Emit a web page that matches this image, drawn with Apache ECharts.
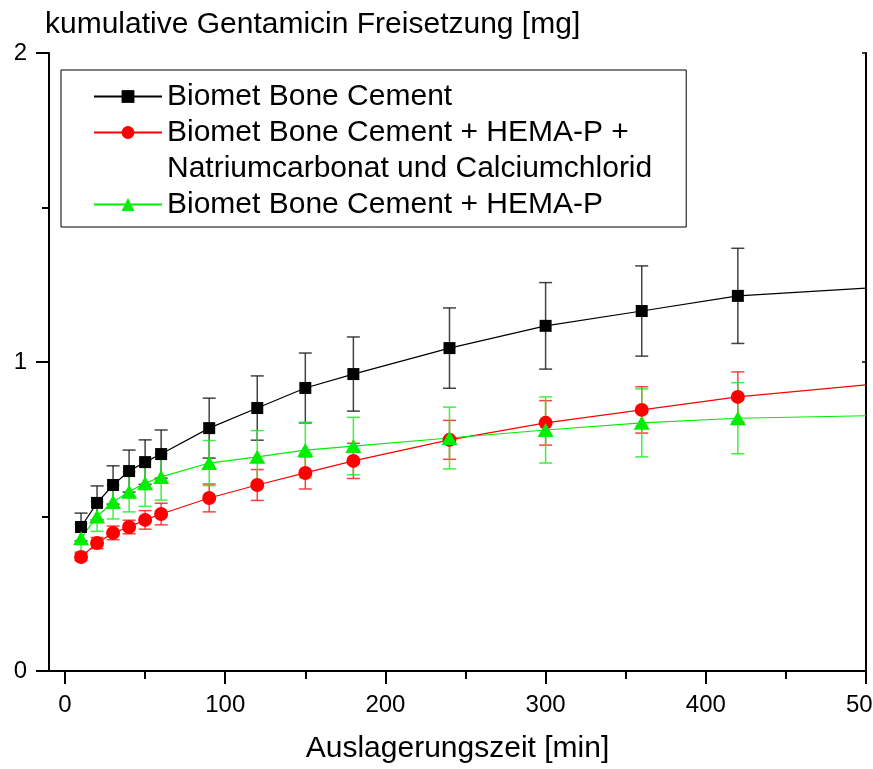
<!DOCTYPE html>
<html>
<head>
<meta charset="utf-8">
<script src="https://cdn.jsdelivr.net/npm/echarts@6/dist/echarts.min.js"></script>
<style>
  html, body { margin: 0; padding: 0; background: #ffffff; }
  #chartArea { width: 873px; height: 769px; }
</style>
</head>
<body>
<div id="chartArea"></div>
<script>
var times = [10, 20, 30, 40, 50, 60, 90, 120, 150, 180, 240, 300, 360, 420];

var blackVals = [0.466, 0.544, 0.602, 0.647, 0.676, 0.702, 0.786, 0.851, 0.916, 0.961, 1.045, 1.117, 1.165, 1.214];
var blackErr  = [0.045, 0.055, 0.062, 0.068, 0.072, 0.078, 0.097, 0.104, 0.113, 0.120, 0.130, 0.140, 0.146, 0.154];

var redVals = [0.369, 0.414, 0.447, 0.466, 0.489, 0.508, 0.560, 0.602, 0.641, 0.680, 0.748, 0.803, 0.845, 0.887];
var redErr  = [0.012, 0.018, 0.022, 0.022, 0.030, 0.035, 0.045, 0.050, 0.052, 0.057, 0.063, 0.072, 0.075, 0.081];

var greenVals = [0.430, 0.500, 0.547, 0.580, 0.608, 0.628, 0.673, 0.693, 0.715, 0.728, 0.754, 0.780, 0.803, 0.818];
var greenErr  = [0.045, 0.048, 0.055, 0.065, 0.075, 0.075, 0.073, 0.085, 0.090, 0.093, 0.100, 0.107, 0.110, 0.115];

// end of the fitted curves at the right border
var fitEndX = 500;
var blackFitEnd = 1.239;
var redFitEnd = 0.926;
var greenFitEnd = 0.826;

var xTicks = [0, 100, 200, 300, 400, 500];
var xMinorTicks = [50, 150, 250, 350, 450];
var xTopTicks = [0, 50, 100, 150, 200, 250, 300, 350, 400, 450, 500];

var names = [
    'Biomet Bone Cement',
    'Biomet Bone Cement + HEMA-P +',
    'Natriumcarbonat und Calciumchlorid',
    'Biomet Bone Cement + HEMA-P'
];

var font = 'Liberation Sans, Arial, sans-serif';

function fitData(vals, endVal) {
    var out = times.map(function(t, i) { return [t, vals[i]]; });
    out.push({ value: [fitEndX, endVal], symbol: 'none' });
    return out;
}

function errData(vals, errs) {
    return times.map(function(t, i) { return [t, vals[i] - errs[i], vals[i] + errs[i]]; });
}

function renderErrorBar(params, api) {
    var x = api.value(0);
    var top = api.coord([x, api.value(2)]);
    var bot = api.coord([x, api.value(1)]);
    var half = 6.5;
    var style = { stroke: api.visual('color'), lineWidth: 1.5, opacity: 0.85 };
    return {
        type: 'group',
        children: [
            { type: 'line', shape: { x1: top[0], y1: top[1], x2: bot[0], y2: bot[1] }, style: style },
            { type: 'line', shape: { x1: top[0] - half, y1: top[1], x2: top[0] + half, y2: top[1] }, style: style },
            { type: 'line', shape: { x1: bot[0] - half, y1: bot[1], x2: bot[0] + half, y2: bot[1] }, style: style }
        ]
    };
}

function errSeries(vals, errs, color) {
    return {
        type: 'custom',
        renderItem: renderErrorBar,
        data: errData(vals, errs),
        encode: { x: 0, y: [1, 2] },
        itemStyle: { color: color },
        z: 1,
        silent: true
    };
}

function lineSeries(name, vals, endVal, color, symbol, size) {
    return {
        name: name,
        type: 'line',
        data: fitData(vals, endVal),
        smooth: false,
        symbol: symbol,
        symbolSize: size,
        showAllSymbol: true,
        lineStyle: { color: color, width: 1.2 },
        itemStyle: { color: color },
        z: 3
    };
}

var myChart = echarts.init(document.getElementById('chartArea'), null, { renderer: 'canvas' });

var option = {
    animation: false,
    backgroundColor: '#ffffff',
    textStyle: { fontFamily: font },
    title: {
        text: 'kumulative Gentamicin Freisetzung [mg]',
        left: 45,
        top: 10,
        padding: 0,
        textStyle: { fontFamily: font, fontSize: 30, fontWeight: 'normal', color: '#000' }
    },
    legend: {
        left: 61,
        top: 70,
        orient: 'vertical',
        padding: [9, 34, 5, 32],
        borderColor: '#000',
        borderWidth: 1,
        itemWidth: 68,
        itemHeight: 16,
        itemGap: 1,
        selectedMode: false,
        textStyle: { fontFamily: font, fontSize: 30, color: '#000', lineHeight: 35 },
        data: [
            { name: names[0] },
            { name: names[1] },
            { name: names[2], icon: 'none' },
            { name: names[3] }
        ]
    },
    grid: { left: 49, right: 7, top: 53, bottom: 98, containLabel: false, outerBoundsMode: 'none' },
    xAxis: [
        {
            type: 'value',
            position: 'bottom',
            min: -10,
            max: 500,
            name: 'Auslagerungszeit [min]',
            nameLocation: 'middle',
            nameGap: 63,
            nameTextStyle: { fontFamily: font, fontSize: 30, color: '#000' },
            axisLine: { show: true, onZero: false, lineStyle: { color: '#000', width: 2 } },
            axisTick: { show: true, customValues: xTicks, length: 13, lineStyle: { color: '#000', width: 2 } },
            axisLabel: { customValues: xTicks, fontFamily: font, fontSize: 24, color: '#000', margin: 22 },
            splitLine: { show: false }
        },
        {
            type: 'value',
            position: 'bottom',
            min: -10,
            max: 500,
            axisLine: { show: false },
            axisTick: { show: true, customValues: xMinorTicks, length: 8, lineStyle: { color: '#000', width: 2 } },
            axisLabel: { show: false },
            splitLine: { show: false }
        },
        {
            type: 'value',
            position: 'top',
            min: -10,
            max: 500,
            axisLine: { show: true, lineStyle: { color: '#000', width: 2 } },
            axisTick: { show: true, inside: true, customValues: xTopTicks, length: 4, lineStyle: { color: '#000', width: 1.5 } },
            axisLabel: { show: false },
            splitLine: { show: false }
        }
    ],
    yAxis: [
        {
            type: 'value',
            position: 'left',
            min: 0,
            max: 2,
            interval: 1,
            axisLine: { show: true, onZero: false, lineStyle: { color: '#000', width: 2 } },
            axisTick: { show: true, length: 13, lineStyle: { color: '#000', width: 2 } },
            minorTick: { show: true, splitNumber: 2, length: 7, lineStyle: { color: '#000', width: 2 } },
            axisLabel: { fontFamily: font, fontSize: 24, color: '#000', margin: 22 },
            splitLine: { show: false }
        },
        {
            type: 'value',
            position: 'right',
            min: 0,
            max: 2,
            interval: 1,
            axisLine: { show: true, onZero: false, lineStyle: { color: '#000', width: 2 } },
            axisTick: { show: true, inside: true, length: 4, lineStyle: { color: '#000', width: 1.5 } },
            axisLabel: { show: false },
            splitLine: { show: false }
        }
    ],
    series: [
        errSeries(blackVals, blackErr, '#222222'),
        errSeries(redVals, redErr, '#ff2020'),
        errSeries(greenVals, greenErr, '#20ee20'),
        lineSeries(names[0], blackVals, blackFitEnd, '#000000', 'rect', 12),
        lineSeries(names[1], redVals, redFitEnd, '#ff0000', 'circle', 14),
        { name: names[2], type: 'line', data: [] },
        lineSeries(names[3], greenVals, greenFitEnd, '#00ee00', 'triangle', [16, 14])
    ]
};

myChart.setOption(option);
</script>
</body>
</html>
